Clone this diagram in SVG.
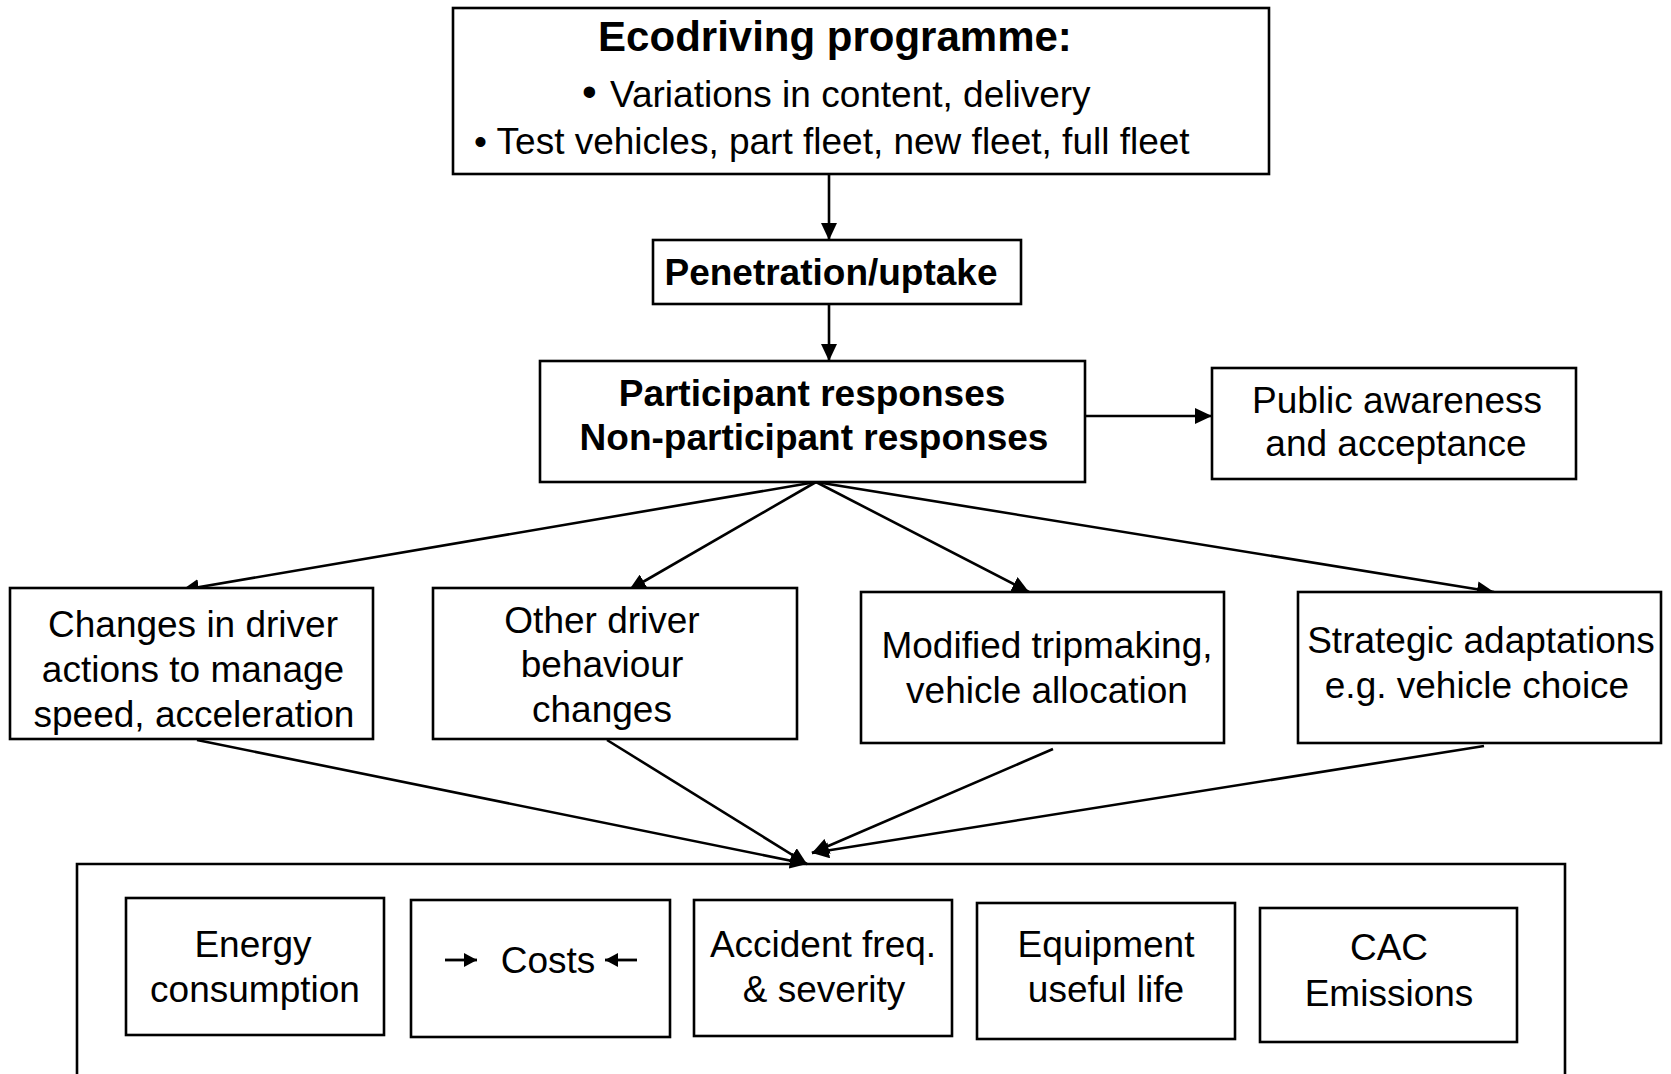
<svg xmlns="http://www.w3.org/2000/svg" width="1671" height="1074" viewBox="0 0 1671 1074">
<defs>
<style>
.box{fill:#fff;stroke:#000;stroke-width:2.6}
.t{font-family:"Liberation Sans",Arial,sans-serif;font-size:37px;fill:#000;text-anchor:middle}
.b{font-weight:bold}
.ln{stroke:#000;stroke-width:2.6;fill:none}
</style>
<marker id="ah" markerUnits="userSpaceOnUse" markerWidth="18" markerHeight="16" refX="17" refY="8" orient="auto">
<path d="M0,0 L17,8 L0,16 z" fill="#000"/>
</marker>
<marker id="sh" markerUnits="userSpaceOnUse" markerWidth="14" markerHeight="14" refX="13" refY="7" orient="auto">
<path d="M0,0 L13,7 L0,14 z" fill="#000"/>
</marker>
</defs>
<rect width="1671" height="1074" fill="#fff"/>

<g id="connectors">
<line class="ln" x1="829" y1="174" x2="829" y2="240" marker-end="url(#ah)"/>
<line class="ln" x1="829" y1="304" x2="829" y2="361" marker-end="url(#ah)"/>
<line class="ln" x1="1085" y1="416" x2="1212" y2="416" marker-end="url(#ah)"/>
<line class="ln" x1="816" y1="482" x2="182" y2="590" marker-end="url(#ah)"/>
<line class="ln" x1="816" y1="482" x2="629" y2="590" marker-end="url(#ah)"/>
<line class="ln" x1="816" y1="482" x2="1029" y2="592" marker-end="url(#ah)"/>
<line class="ln" x1="816" y1="482" x2="1494" y2="592" marker-end="url(#ah)"/>
<line class="ln" x1="197" y1="740" x2="807" y2="864" marker-end="url(#ah)"/>
<line class="ln" x1="607" y1="740" x2="807" y2="864" marker-end="url(#ah)"/>
<line class="ln" x1="1053" y1="749" x2="812" y2="853" marker-end="url(#ah)"/>
<line class="ln" x1="1484" y1="746" x2="812" y2="853" marker-end="url(#ah)"/>
</g>

<g id="programme">
<rect class="box" x="453" y="8" width="816" height="166"/>
<text class="t b" x="835" y="51" style="font-size:42px">Ecodriving programme:</text>
<text class="t" x="582" y="106" style="font-size:42px;text-anchor:start">•</text>
<text class="t" x="610" y="107" style="text-anchor:start">Variations in content, delivery</text>
<text class="t" x="474" y="154" style="text-anchor:start">• Test vehicles, part fleet, new fleet, full fleet</text>
</g>

<g id="penetration">
<rect class="box" x="653" y="240" width="368" height="64"/>
<text class="t b" x="831" y="285">Penetration/uptake</text>
</g>

<g id="responses">
<rect class="box" x="540" y="361" width="545" height="121"/>
<text class="t b" x="812" y="406">Participant responses</text>
<text class="t b" x="814" y="450">Non-participant responses</text>
</g>

<g id="public">
<rect class="box" x="1212" y="368" width="364" height="111"/>
<text class="t" x="1397" y="413">Public awareness</text>
<text class="t" x="1396" y="456">and acceptance</text>
</g>

<g id="driver-actions">
<rect class="box" x="10" y="588" width="363" height="151"/>
<text class="t" x="193" y="637">Changes in driver</text>
<text class="t" x="193" y="682">actions to manage</text>
<text class="t" x="194" y="727">speed, acceleration</text>
</g>

<g id="other-behaviour">
<rect class="box" x="433" y="588" width="364" height="151"/>
<text class="t" x="602" y="633">Other driver</text>
<text class="t" x="602" y="677">behaviour</text>
<text class="t" x="602" y="722">changes</text>
</g>

<g id="tripmaking">
<rect class="box" x="861" y="592" width="363" height="151"/>
<text class="t" x="1047" y="658">Modified tripmaking,</text>
<text class="t" x="1047" y="703">vehicle allocation</text>
</g>

<g id="strategic">
<rect class="box" x="1298" y="592" width="363" height="151"/>
<text class="t" x="1481" y="653">Strategic adaptations</text>
<text class="t" x="1477" y="698">e.g. vehicle choice</text>
</g>

<g id="outcomes">
<path class="ln" d="M77,1080 V864 H1565 V1080"/>
</g>

<g id="energy">
<rect class="box" x="126" y="898" width="258" height="137"/>
<text class="t" x="253" y="957">Energy</text>
<text class="t" x="255" y="1002">consumption</text>
</g>

<g id="costs">
<rect class="box" x="411" y="900" width="259" height="137"/>
<line x1="445" y1="960" x2="477" y2="960" stroke="#000" stroke-width="2.8" marker-end="url(#sh)"/>
<line x1="637" y1="960" x2="605" y2="960" stroke="#000" stroke-width="2.8" marker-end="url(#sh)"/>
<text class="t" x="548" y="973">Costs</text>
</g>

<g id="accident">
<rect class="box" x="694" y="900" width="258" height="136"/>
<text class="t" x="823" y="957">Accident freq.</text>
<text class="t" x="824" y="1002">&amp; severity</text>
</g>

<g id="equipment">
<rect class="box" x="977" y="903" width="258" height="136"/>
<text class="t" x="1106" y="957">Equipment</text>
<text class="t" x="1106" y="1002">useful life</text>
</g>

<g id="cac">
<rect class="box" x="1260" y="908" width="257" height="134"/>
<text class="t" x="1389" y="960">CAC</text>
<text class="t" x="1389" y="1006">Emissions</text>
</g>
</svg>
